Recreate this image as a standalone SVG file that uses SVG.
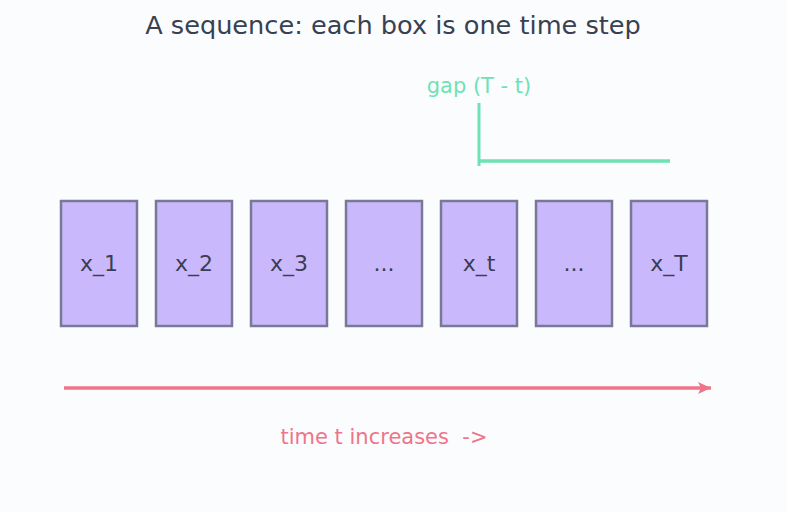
<svg xmlns="http://www.w3.org/2000/svg" width="787" height="512" viewBox="0 0 787 512">
<defs>
<style>
.box{fill:#c9b9fc;stroke:#7a7897;stroke-width:2.5}
.lbl{font-family:"DejaVu Sans",sans-serif;font-size:22px;fill:#3a3d55;text-anchor:middle}
</style>
<marker id="ah" markerWidth="16" markerHeight="16" refX="13" refY="6" orient="auto" markerUnits="userSpaceOnUse">
<path d="M0,0 L13,6 L0,12 L3,6 Z" fill="#f07489"/>
</marker>
</defs>
<rect width="787" height="512" fill="#fbfcfe"/>
<text x="393" y="34" font-family="DejaVu Sans, sans-serif" font-size="25.6" fill="#374151" text-anchor="middle">A sequence: each box is one time step</text>
<g id="n1"><rect class="box" x="61" y="201" width="76" height="125"/><text class="lbl" x="99" y="271">x_1</text></g>
<g id="n2"><rect class="box" x="156" y="201" width="76" height="125"/><text class="lbl" x="194" y="271">x_2</text></g>
<g id="n3"><rect class="box" x="251" y="201" width="76" height="125"/><text class="lbl" x="289" y="271">x_3</text></g>
<g id="n4"><rect class="box" x="346" y="201" width="76" height="125"/><text class="lbl" x="384" y="271">...</text></g>
<g id="n5"><rect class="box" x="441" y="201" width="76" height="125"/><text class="lbl" x="479" y="271">x_t</text></g>
<g id="n6"><rect class="box" x="536" y="201" width="76" height="125"/><text class="lbl" x="574" y="271">...</text></g>
<g id="n7"><rect class="box" x="631" y="201" width="76" height="125"/><text class="lbl" x="669" y="271">x_T</text></g>
<g id="connectors">
<path d="M479,103 L479,166" stroke="#6ee2b5" stroke-width="3" fill="none"/>
<path d="M478,161 L670,161" stroke="#6ee2b5" stroke-width="3.5" fill="none"/>
<path d="M64,388 L711,388" stroke="#f07489" stroke-width="3.3" fill="none" marker-end="url(#ah)"/>
</g>
<text x="479" y="93" font-family="DejaVu Sans, sans-serif" font-size="21" fill="#6ee2b5" text-anchor="middle">gap (T - t)</text>
<text x="384" y="444" font-family="DejaVu Sans, sans-serif" font-size="21" fill="#f07489" text-anchor="middle" xml:space="preserve">time t increases  -&gt;</text>
</svg>
